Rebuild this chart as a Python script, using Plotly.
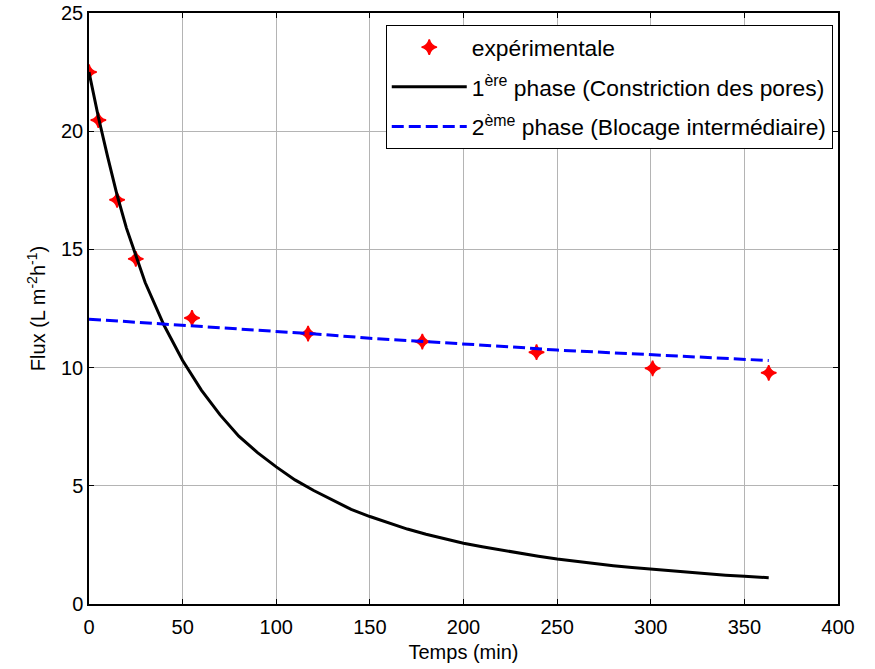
import plotly.graph_objects as go

# Experimental data
t_exp = [0, 5, 15, 25, 55, 117, 178, 239, 301, 363]
flux_exp = [22.5, 20.47, 17.1, 14.6, 12.1, 11.44, 11.1, 10.65, 9.97, 9.78]

# 1st phase model (pore constriction)
t_p1 = [0, 5, 10, 15, 20, 25, 30, 40, 50, 60, 70, 80, 90, 100, 110, 120, 130,
        140, 150, 160, 170, 180, 190, 200, 210, 220, 230, 240, 250, 260, 270,
        280, 290, 300, 310, 320, 330, 340, 350, 363]
flux_p1 = [22.5, 20.6, 18.9, 17.3, 15.9, 14.7, 13.6, 11.8, 10.3, 9.05, 8.0,
           7.1, 6.4, 5.8, 5.25, 4.8, 4.4, 4.0, 3.7, 3.42, 3.17, 2.95, 2.75,
           2.57, 2.42, 2.28, 2.15, 2.02, 1.9, 1.8, 1.7, 1.62, 1.54, 1.47, 1.4,
           1.33, 1.27, 1.22, 1.17, 1.11]

# 2nd phase model (intermediate blocking)
t_p2 = [0, 25, 50, 75, 100, 125, 150, 175, 200, 225, 250, 275, 300, 325, 350, 363]
flux_p2 = [12.05, 11.92, 11.78, 11.66, 11.54, 11.4, 11.24, 11.13, 11.02,
           10.88, 10.74, 10.64, 10.55, 10.45, 10.36, 10.3]

x_ticks = [0, 50, 100, 150, 200, 250, 300, 350, 400]
y_ticks = [0, 5, 10, 15, 20, 25]

FONT = "Liberation Sans, Arial, sans-serif"
FS = 20
LFS = 22.8

fig = go.Figure()
fig.add_trace(go.Scatter(
    x=t_exp, y=flux_exp, mode="markers", name="expérimentale",
    legendgroup="a",
    marker=dict(symbol="star-diamond", size=11, color="red",
                line=dict(color="red", width=1.5))))
fig.add_trace(go.Scatter(
    x=t_p1, y=flux_p1, mode="lines", legendgroup="b",
    name="1<sup>ère</sup> phase (Constriction des pores)",
    line=dict(color="black", width=3)))
fig.add_trace(go.Scatter(
    x=t_p2, y=flux_p2, mode="lines", legendgroup="c",
    name="2<sup>ème</sup> phase (Blocage intermédiaire)",
    line=dict(color="blue", width=3, dash="12px,5px")))

axis_common = dict(
    showline=True, linecolor="black", linewidth=1.5, mirror="ticks",
    ticks="inside", ticklen=5, tickcolor="black", tickwidth=1,
    showgrid=True, gridcolor="#b4b4b4", gridwidth=1, zeroline=False,
    automargin=False,
    tickfont=dict(family=FONT, size=FS, color="black"),
)

fig.update_layout(
    width=875, height=669,
    margin=dict(l=89, r=37, t=13, b=65),
    paper_bgcolor="white", plot_bgcolor="white",
    font=dict(family=FONT, size=FS, color="black"),
    xaxis=dict(range=[0, 400], tickvals=x_ticks, ticklabelstandoff=4,
               title=dict(text="Temps (min)", standoff=8,
                          font=dict(family=FONT, size=FS)),
               **axis_common),
    yaxis=dict(range=[0, 25], tickvals=y_ticks,
               title=dict(text="Flux (L m<sup>-2</sup>h<sup>-1</sup>)", standoff=10,
                          font=dict(family=FONT, size=FS)),
               **axis_common),
    legend=dict(x=0.993, y=0.98, xanchor="right", yanchor="top",
                bgcolor="white", bordercolor="black", borderwidth=1,
                font=dict(family=FONT, size=LFS, color="black"),
                itemwidth=75, tracegroupgap=7),
    showlegend=True,
)

fig.write_html("out.html", config={"displayModeBar": False},
               post_script="document.body.style.margin='0';")
